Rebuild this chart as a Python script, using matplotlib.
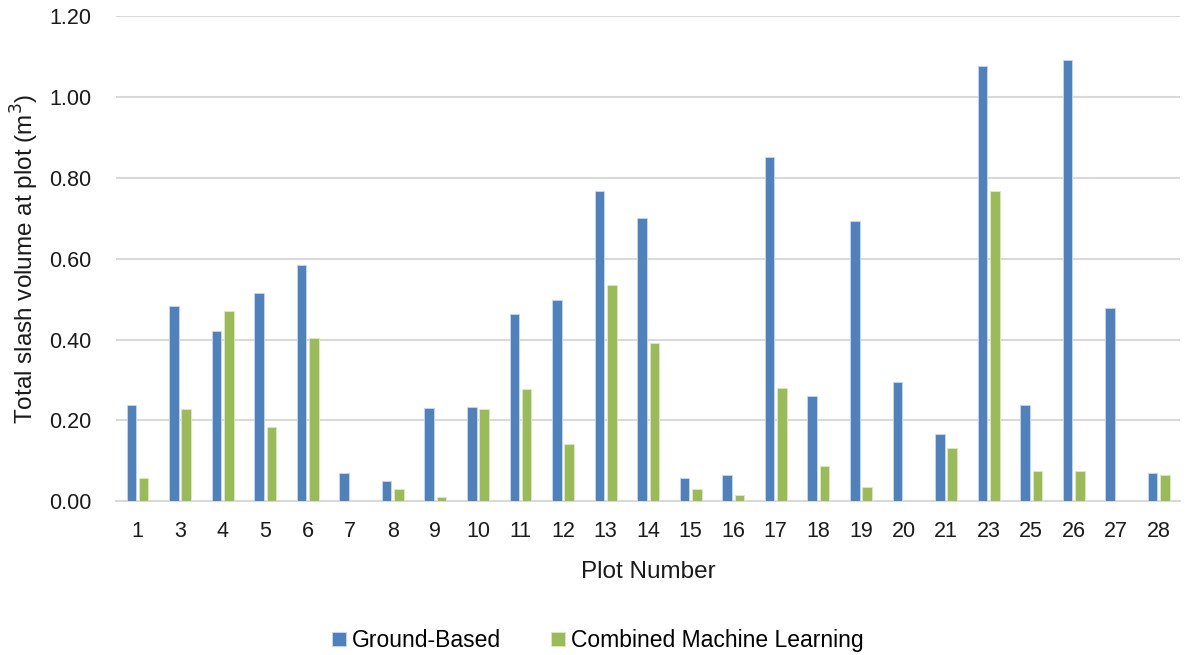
import numpy as np
from matplotlib import pyplot as plt

# Plot numbers and slash volumes (m3)
plots = ['1', '3', '4', '5', '6', '7', '8', '9', '10', '11', '12', '13', '14',
         '15', '16', '17', '18', '19', '20', '21', '23', '25', '26', '27', '28']
ground = [0.237, 0.482, 0.421, 0.516, 0.584, 0.070, 0.050, 0.230, 0.233, 0.462,
          0.498, 0.768, 0.700, 0.056, 0.065, 0.852, 0.259, 0.694, 0.294, 0.167,
          1.077, 0.237, 1.091, 0.478, 0.070]
combined_ml = [0.056, 0.227, 0.471, 0.183, 0.403, 0.0, 0.029, 0.011, 0.227, 0.277,
               0.142, 0.535, 0.391, 0.031, 0.015, 0.279, 0.087, 0.035, 0.0, 0.131,
               0.767, 0.074, 0.075, 0.0, 0.065]

plt.rcParams['font.family'] = ['Liberation Sans', 'DejaVu Sans']

fig = plt.figure(figsize=(11.86, 6.55), dpi=100)
ax = fig.add_axes([0.098, 0.235, 0.897, 0.74])

x = np.arange(len(plots))
w = 0.225
ax.bar(x - 0.145, ground, w, color='#4F81BD', edgecolor='#c9d8ee', linewidth=0.6,
       label='Ground-Based', zorder=3)
ax.bar(x + 0.145, combined_ml, w, color='#9BBB59', edgecolor='#dde9c6', linewidth=0.6,
       label='Combined Machine Learning', zorder=3)

ax.set_xlim(-0.5, len(plots) - 0.5)
ax.set_ylim(0, 1.2)
ax.set_yticks(np.arange(0, 1.21, 0.2))
ax.set_yticklabels([f'{v:.2f}' for v in np.arange(0, 1.21, 0.2)])
ax.set_xticks(x)
ax.set_xticklabels(plots)
ax.grid(axis='y', color='#d9d9d9', linewidth=1.5, zorder=0)
ax.tick_params(axis='both', length=0, labelsize=15.5, colors='#1a1a1a')
ax.tick_params(axis='x', pad=14)
ax.tick_params(axis='y', pad=18)

for s in ['top', 'right', 'left']:
    ax.spines[s].set_visible(False)
ax.spines['bottom'].set_color('#d9d9d9')
ax.spines['bottom'].set_linewidth(1.5)

ax.set_xlabel('Plot Number', fontsize=17.5, color='#1a1a1a', labelpad=14)
ax.set_ylabel('Total slash volume at plot (m$^3$)', fontsize=17.5, color='#1a1a1a',
              labelpad=6)

fig.legend(loc='center', bbox_to_anchor=(0.504, 0.022), ncol=2, frameon=False,
           fontsize=16.5, handlelength=0.6, handleheight=0.6, columnspacing=2.2,
           handletextpad=0.25)

fig.savefig('out.png', dpi=100)
